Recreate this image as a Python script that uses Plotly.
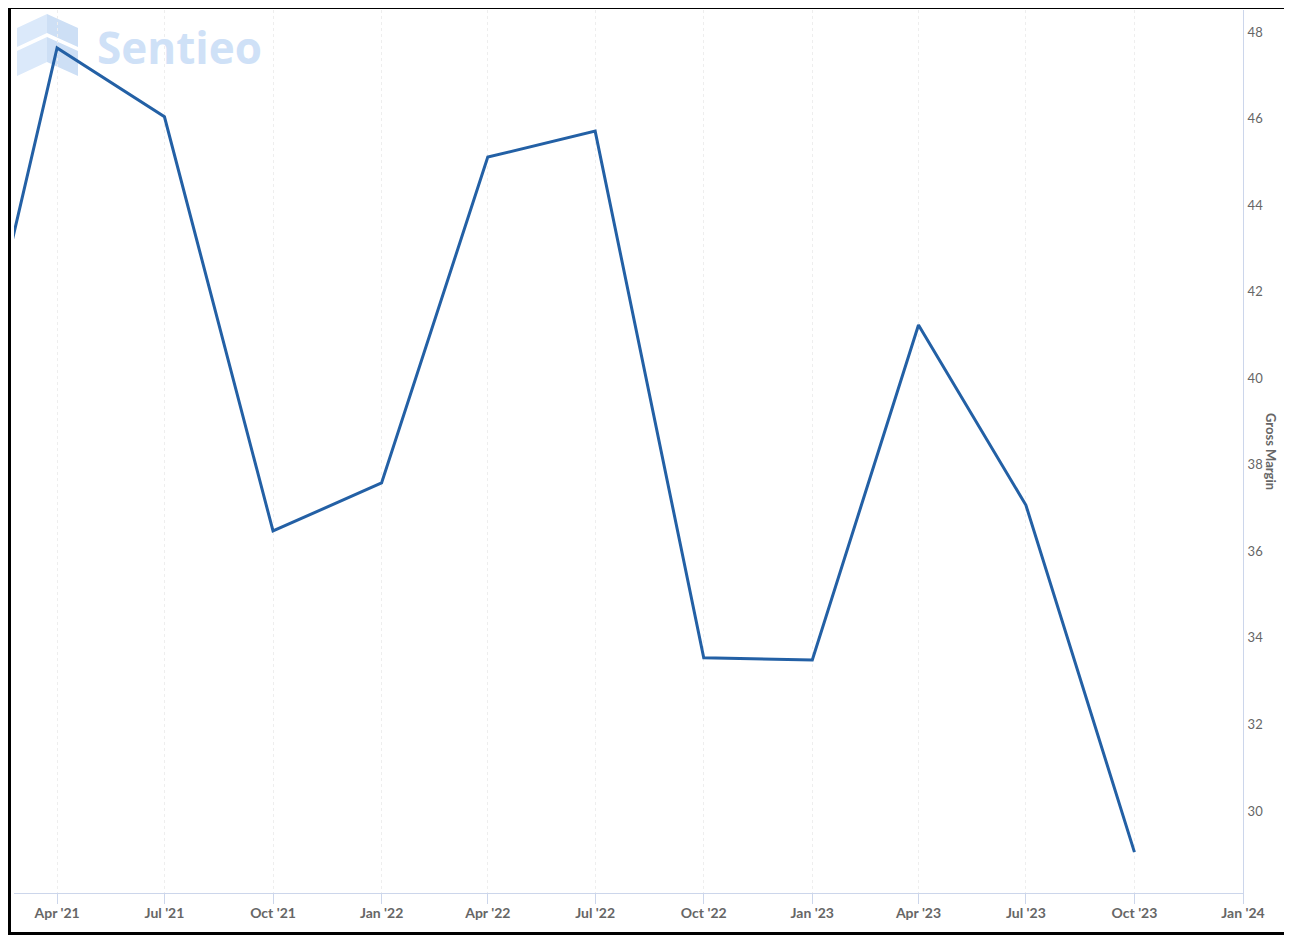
import plotly.graph_objects as go

# ---- data ----
quarters = ["2021-01-01", "2021-04-01", "2021-07-01", "2021-10-01", "2022-01-01",
            "2022-04-01", "2022-07-01", "2022-10-01", "2023-01-01", "2023-04-01",
            "2023-07-01", "2023-10-01"]
gross_margin = [37.1, 47.63, 46.04, 36.47, 37.58, 45.11, 45.71, 33.54, 33.49, 41.23, 37.07, 29.05]
y_ticks = [30, 32, 34, 36, 38, 40, 42, 44, 46, 48]

OFF = 8  # page body margin offset
W, H = 1292 - OFF, 942 - OFF
L, R, T, B = 14 - OFF, 49, 10 - OFF, 49
PW, PH = W - L - R, H - T - B


def px(x):
    return (x - OFF - L) / PW


def py(y):
    return (H - B - (y - OFF)) / PH


fig = go.Figure()
fig.add_trace(go.Scatter(x=quarters, y=gross_margin, mode="lines",
                         line=dict(color="#2360a5", width=3), hoverinfo="x+y"))

fig.update_layout(
    width=W, height=H,
    margin=dict(l=L, r=R, t=T, b=B, pad=0),
    paper_bgcolor="white", plot_bgcolor="white",
    showlegend=False,
    font=dict(family="Lato, Open Sans, sans-serif", color="#666666"),
    xaxis=dict(
        type="date",
        range=["2021-02-23 12:00", "2024-01-01"],
        tick0="2021-01-01", dtick="M3", tickformat="%b '%y",
        ticks="outside", ticklen=10, tickcolor="#ccd6eb", tickwidth=1,
        showline=True, linecolor="#ccd6eb", linewidth=1,
        showgrid=True, gridcolor="#eeeeee", griddash="dot", gridwidth=1,
        tickfont=dict(family="Lato", size=14, color="#666666", weight="bold"),
        ticklabelstandoff=-3,
        zeroline=False,
    ),
    yaxis=dict(
        side="right", range=[28.105, 48.508],
        tickvals=y_ticks, ticktext=[str(v) for v in y_ticks],
        showgrid=False, zeroline=False,
        showline=True, linecolor="#ccd6eb", linewidth=1,
        ticks="", ticklabelstandoff=1,
        tickfont=dict(family="Lato", size=13, color="#666666"),
    ),
)

# y-axis title (reads top to bottom)
fig.add_annotation(text="Gross Margin", xref="paper", yref="paper",
                   x=px(1271), y=py(451), xanchor="center", yanchor="middle",
                   showarrow=False, textangle=90,
                   font=dict(family="Lato", size=13, color="#666666", weight="bold"))

# watermark text
fig.add_annotation(text="Sentieo", xref="paper", yref="paper",
                   x=px(95), y=py(47), xanchor="left", yanchor="middle", showarrow=False,
                   font=dict(family="Open Sans", size=44, color="#cfe1f7", weight="bold"))


# watermark logo: two stacked chevrons
def chev(top, thick, left_col, right_col):
    cx, lx, rx, drop = 47, 17, 78, 14
    lp = f"M {px(lx)} {py(top+drop)} L {px(cx)} {py(top)} L {px(cx)} {py(top+thick)} L {px(lx)} {py(top+drop+thick)} Z"
    rp = f"M {px(cx)} {py(top)} L {px(rx)} {py(top+drop)} L {px(rx)} {py(top+drop+thick)} L {px(cx)} {py(top+thick)} Z"
    fig.add_shape(type="path", path=lp, xref="paper", yref="paper", fillcolor=left_col,
                  line=dict(width=0), layer="below")
    fig.add_shape(type="path", path=rp, xref="paper", yref="paper", fillcolor=right_col,
                  line=dict(width=0), layer="below")


chev(14, 19, "#dbe9fa", "#cddff5")
chev(37, 25, "#dbe9fa", "#cddff5")

# outer border
fig.add_shape(type="rect", xref="paper", yref="paper",
              x0=px(9.5), x1=px(1285.5), y0=py(933.5), y1=py(7.5),
              line=dict(color="black", width=3), fillcolor="rgba(0,0,0,0)")

fig.write_html("out.html")
